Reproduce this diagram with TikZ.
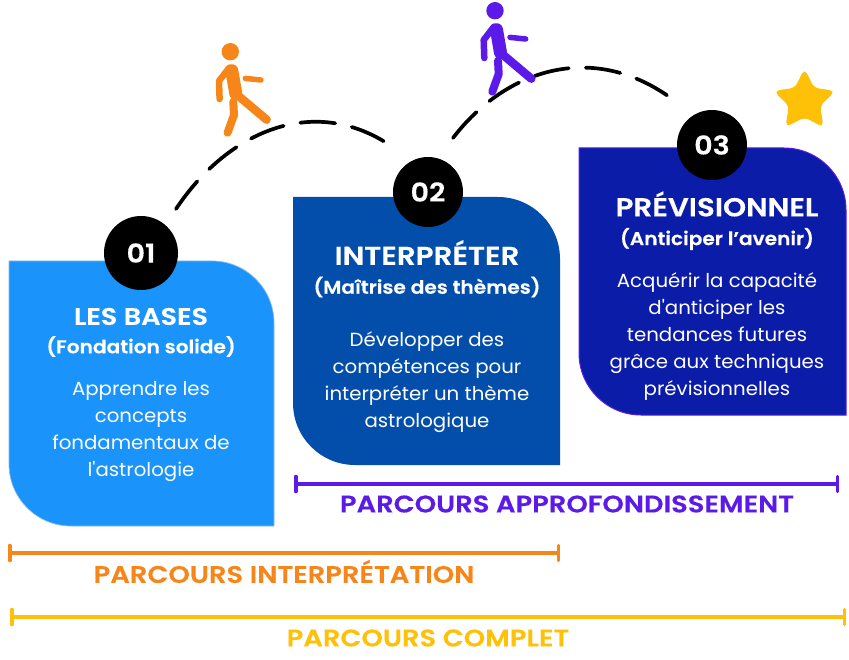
\documentclass[tikz,border=0pt]{standalone}
\usepackage{fontspec}
\setmainfont{Poppins}[Ligatures=TeXOff,BoldFont={Poppins SemiBold}]
\usetikzlibrary{arrows.meta}
\usetikzlibrary{shapes.geometric}
\definecolor{bleuA}{RGB}{26,147,251}
\definecolor{bleuB}{RGB}{3,78,171}
\definecolor{bleuC}{RGB}{10,28,168}
\definecolor{violet}{RGB}{91,26,232}
\definecolor{orange}{RGB}{246,134,26}
\definecolor{jaune}{RGB}{255,193,7}
\tikzset{
  titre/.style={text=white,font=\bfseries\fontsize{24}{28}\selectfont\addfontfeature{FakeStretch=1.13,FakeBold=0.3}},
  grandtitre/.style={text=white,font=\bfseries\fontsize{26}{30}\selectfont\addfontfeature{FakeStretch=1.13,FakeBold=0.3}},
  soustitre/.style={text=white,font=\bfseries\fontsize{18.5}{22}\selectfont\addfontfeature{FakeStretch=1.09,FakeBold=0.3}},
  corps/.style={text=white,align=center,font=\fontsize{19}{27}\selectfont\addfontfeature{FakeStretch=1.04}},
  pastille/.style={circle,fill=black,text=white,inner sep=0pt,font=\bfseries\fontsize{26}{28}\selectfont\addfontfeature{FakeStretch=1.1,FakeBold=0.3}},
  chemin/.style={line width=3.7pt,line cap=round,dash pattern=on 35pt off 17pt},
  parcours/.style={line width=3.5pt,{Bar[width=15pt,round]}-{Bar[width=15pt,round]}},
  etiquette/.style={font=\bfseries\fontsize{24}{28}\selectfont\addfontfeature{FakeStretch=1.14,FakeBold=0.3}},
  marcheur/.pic={
    \fill (0,0) circle (8.7);
    \draw[line width=13pt,line cap=round] (1.5,19)--(5.5,42);
    \draw[line width=8.5pt,line cap=round] (5.5,42)--(36.3,68);
    \draw[line width=8pt,line cap=round,line join=round] (3,50)--(3.7,63.3)--(-2.7,81);
    \draw[line width=6.5pt,line cap=round,line join=round] (-1,16)--(-11.3,29.3)--(-10.7,47.3);
    \draw[line width=5.5pt,line cap=round] (15,26.7)--(30.7,28.3);
  }
}
\begin{document}
\begin{tikzpicture}[x=1pt,y=-1pt]
\useasboundingbox (0,0) rectangle (849,660);
% cartes
\draw[bleuA!70!gray!60!white,fill=bleuA,line width=0.7pt] (9,261) [rounded corners=62pt] -- (274,261) [sharp corners] -- (274,526) [rounded corners=62pt] -- (9,526) [sharp corners] -- cycle;
\fill[bleuB] (293,197) [rounded corners=62pt] -- (560,197) [sharp corners] -- (560,465) [rounded corners=62pt] -- (293,465) [sharp corners] -- cycle;
\draw[violet,fill=bleuC,line width=1pt] (579,148) [rounded corners=62pt] -- (846,148) [sharp corners] -- (846,415) [rounded corners=62pt] -- (579,415) [sharp corners] -- cycle;
% pastilles
\node[pastille,minimum size=74pt] (p1) at (141,253) {01};
\node[pastille,minimum size=70pt] (p2) at (428,192) {02};
\node[pastille,minimum size=70pt] (p3) at (712,145) {03};
% textes
\node[titre] (t1) at (141,316.5) {LES BASES};
\node[soustitre] (s1) at (141,346.5) {(Fondation solide)};
\node[corps] (c1) at (141,431.5) {Apprendre les\\concepts\\fondamentaux de\\l'astrologie};
\node[grandtitre] (t2) at (427,252.5) {INTERPRÉTER};
\node[soustitre] (s2) at (427,287) {(Maîtrise des thèmes)};
\node[corps] (c2) at (427,382) {Développer des\\compétences pour\\interpréter un thème\\astrologique};
\node[grandtitre] (t3) at (717,204) {PRÉVISIONNEL};
\node[soustitre] (s3) at (717,239) {(Anticiper l’avenir)};
\node[corps] (c3) at (717,337) {Acquérir la capacité\\d'anticiper les\\tendances futures\\grâce aux techniques\\prévisionnelles};
% chemins
\coordinate (a1) at (176,209);
\coordinate (b1) at (385,142);
\coordinate (a2) at (453,138);
\coordinate (b2) at (668,96);
\draw[chemin] (a1) .. controls (225,135) and (308,95) .. (b1);
\draw[chemin] (a2) .. controls (505,70) and (590,42) .. (b2);
% marcheurs
\pic[orange,draw=orange,fill=orange] at (230.3,51.7) {marcheur};
\pic[violet,draw=violet,fill=violet] at (495,10.7) {marcheur};
\node[star,star points=5,star point ratio=2,fill=jaune,draw=jaune,line width=1pt,rounded corners=5pt,minimum size=63pt,inner sep=0pt] (etoile) at (804.5,101) {};
% parcours
\coordinate (v1) at (294,484);
\coordinate (v2) at (839,484);
\coordinate (o1) at (8,553);
\coordinate (o2) at (560,553);
\coordinate (j1) at (10,617);
\coordinate (j2) at (846,617);
\draw[parcours,violet] (v1)--(v2);
\draw[parcours,orange] (o1)--(o2);
\draw[parcours,jaune] (j1)--(j2);
\node[etiquette,text=violet] (ev) at (567,504) {PARCOURS APPROFONDISSEMENT};
\node[etiquette,text=orange] (eo) at (284,571.5) {PARCOURS INTERPRÉTATION};
\node[etiquette,text=jaune] (ej) at (428,638) {PARCOURS COMPLET};
\end{tikzpicture}
\end{document}
